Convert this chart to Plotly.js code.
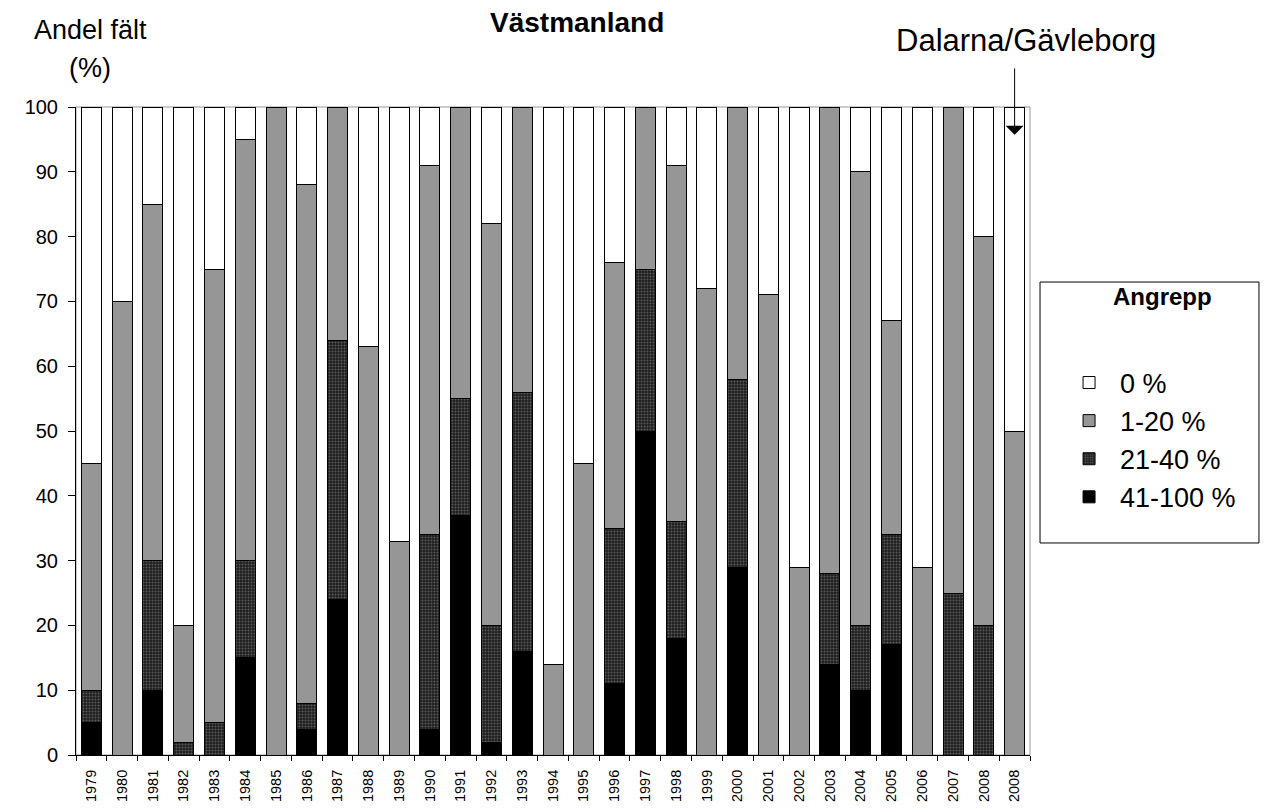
<!DOCTYPE html>
<html><head><meta charset="utf-8">
<script src="https://cdn.plot.ly/plotly-3.0.1.min.js"></script>
<style>html,body{margin:0;padding:0;background:#fff}#chart{width:1285px;height:812px}</style>
</head><body><div id="chart"></div>
<script>
const yearLabels = ['1979','1980','1981','1982','1983','1984','1985','1986','1987','1988','1989','1990','1991','1992','1993','1994','1995','1996','1997','1998','1999','2000','2001','2002','2003','2004','2005','2006','2007','2008','2008'];
const s41_100 = [5,0,10,0,0,15,0,4,24,0,0,4,37,2,16,0,0,11,50,18,0,29,0,0,14,10,17,0,0,0,0];
const s21_40  = [5,0,20,2,5,15,0,4,40,0,0,30,18,18,40,0,0,24,25,18,0,29,0,0,14,10,17,0,25,20,0];
const s1_20   = [35,70,55,18,70,65,100,80,36,63,33,57,45,62,44,14,45,41,25,55,72,42,71,29,72,70,33,29,75,60,50];
const s0      = [55,30,15,80,25,5,0,12,0,37,67,9,0,18,0,86,55,24,0,9,28,0,29,71,0,10,33,71,0,20,50];
const seriesNames = ['41-100 %','21-40 %','1-20 %','0 %'];

const idx = yearLabels.map((_, i) => i);
const F = 'Liberation Sans, Arial, sans-serif';
const line = {color:'#000', width:1};

const traces = [
  {type:'bar', name:seriesNames[0], x:idx, y:s41_100, marker:{color:'#000', line:line}},
  {type:'bar', name:seriesNames[1], x:idx, y:s21_40, marker:{color:'#222', line:line, pattern:{shape:'.', bgcolor:'#1e1e1e', fgcolor:'#5a5a5a', size:3, solidity:0.35}}},
  {type:'bar', name:seriesNames[2], x:idx, y:s1_20, marker:{color:'#969696', line:line}},
  {type:'bar', name:seriesNames[3], x:idx, y:s0, marker:{color:'#fff', line:line}}
];

const layout = {
  width:1285, height:812,
  barmode:'stack', bargap:0.35,
  paper_bgcolor:'#fff', plot_bgcolor:'#fff',
  margin:{l:76, r:255, t:107, b:57},
  font:{family:F, color:'#000'},
  showlegend:true,
  legend:{x:1.0294, y:0.6119, xanchor:'left', yanchor:'top', traceorder:'reversed', font:{family:F, size:27}, bgcolor:'rgba(0,0,0,0)', itemwidth:52, tracegroupgap:0},
  xaxis:{type:'category', tickmode:'array', tickvals:idx, ticktext:yearLabels, tickangle:-90, tickfont:{size:14.5, family:F}, tickson:'boundaries', ticks:'outside', ticklen:5, tickcolor:'#000', ticklabelstandoff:8, showline:true, linecolor:'#000', linewidth:1, showgrid:false, zeroline:false, fixedrange:true},
  yaxis:{range:[0,100], dtick:10, tickfont:{size:20, family:F}, ticks:'outside', ticklen:7, tickcolor:'#000', ticklabelstandoff:6, showline:true, linecolor:'#000', linewidth:1, showgrid:false, zeroline:false, fixedrange:true},
  shapes:[
    {type:'rect', xref:'paper', yref:'paper', x0:0, x1:1, y0:0, y1:1, line:{color:'#999', width:1}, layer:'below'},
    {type:'rect', xref:'paper', yref:'paper', x0:1.0105, x1:1.2400, y0:0.3272, y1:0.7299, line:{color:'#000', width:1}, fillcolor:'rgba(0,0,0,0)'}
  ],
  annotations:[
    {text:'<b>Västmanland</b>', xref:'paper', yref:'paper', x:0.525, y:1.131, xanchor:'center', yanchor:'middle', showarrow:false, font:{size:28, family:F}},
    {text:'Andel fält', xref:'paper', yref:'paper', x:0.0147, y:1.119, xanchor:'center', yanchor:'middle', showarrow:false, font:{size:27, family:F}},
    {text:'(%)', xref:'paper', yref:'paper', x:0.0147, y:1.060, xanchor:'center', yanchor:'middle', showarrow:false, font:{size:27, family:F}},
    {text:'Dalarna/Gävleborg', xref:'paper', yref:'paper', x:0.9958, y:1.103, xanchor:'center', yanchor:'middle', showarrow:false, font:{size:31, family:F}},
    {text:'', x:30, y:95.7, xref:'x', yref:'y', showarrow:true, arrowhead:1, arrowsize:3, arrowwidth:1, arrowcolor:'#000', ax:0, ay:-68, axref:'pixel', ayref:'pixel'},
    {text:'<b>Angrepp</b>', xref:'paper', yref:'paper', x:1.1394, y:0.7068, xanchor:'center', yanchor:'middle', showarrow:false, font:{size:24, family:F}}
  ]
};

Plotly.newPlot('chart', traces, layout, {displayModeBar:false, staticPlot:true});
</script></body></html>
